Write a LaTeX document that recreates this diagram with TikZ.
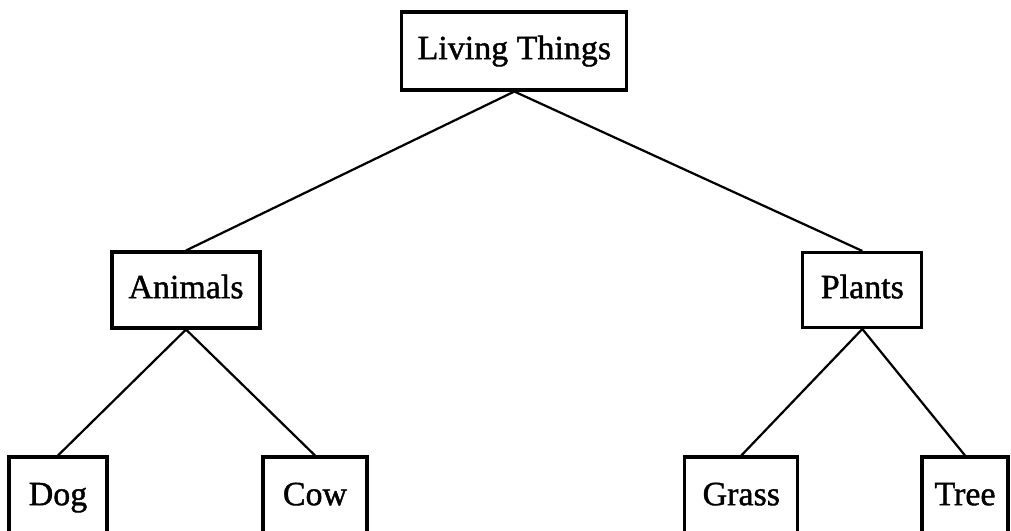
\documentclass[tikz,border=0pt]{standalone}
\usepackage{fontspec}
\setmainfont{Liberation Serif}[BoldFont=Liberation Serif, BoldFeatures={FakeBold=1.2}]
\usepackage{tikz}
\usetikzlibrary{positioning}

\begin{document}
\begin{tikzpicture}[
        box/.style={draw, line width=2.6pt, inner sep=0pt, text height=20pt, text depth=6pt,
            font=\fontsize{29}{34}\selectfont\bfseries},
        link/.style={draw, line width=1.9pt}
    ]
        \clip (0,0) rectangle (30.33,15.93);

        \node[box, minimum width=6.75cm, minimum height=2.34cm](living) at (15.43,14.40){Living Things};
        \node[box, minimum width=4.44cm, minimum height=2.28cm](animals) at (5.58,7.23){Animals};
        \node[box, minimum width=3.57cm, minimum height=2.25cm](plants) at (25.87,7.23){Plants};

        \node[box, minimum width=2.94cm, minimum height=2.4cm](dog) at (1.74,1.02){Dog};
        \node[box, minimum width=3.12cm, minimum height=2.4cm](cow) at (9.45,1.02){Cow};
        \node[box, minimum width=3.39cm, minimum height=2.4cm](grass) at (22.24,1.02){Grass};
        \node[box, minimum width=2.58cm, minimum height=2.4cm](tree) at (28.95,1.02){Tree};

        \path[link]
        (living.south) edge node {} (animals.north)
        (living.south) edge node {} (plants.north)
        (animals.south) edge node {} (dog.north)
        (animals.south) edge node {} (cow.north)
        (plants.south) edge node {} (grass.north)
        (plants.south) edge node {} (tree.north);
    \end{tikzpicture}
\end{document}
